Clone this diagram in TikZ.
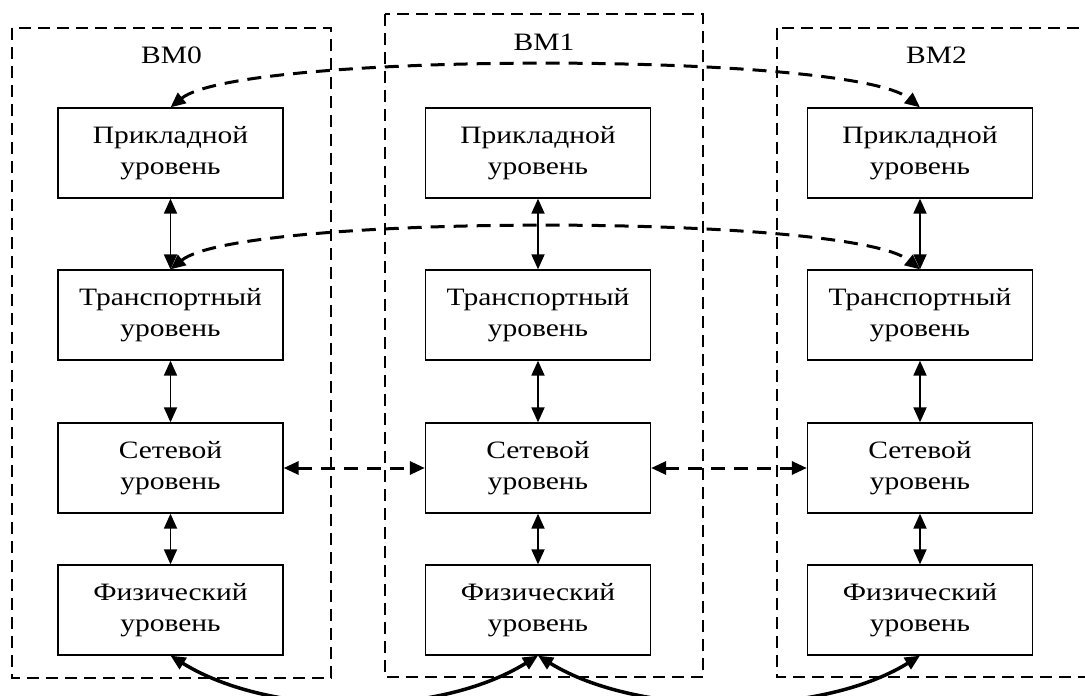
\documentclass[tikz,border=0pt]{standalone}
\usepackage{fontspec}
\setmainfont{Liberation Serif}[FakeStretch=1.18]
\usetikzlibrary{arrows.meta}
\definecolor{mainBlack}{gray}{0}

\begin{document}
\begin{tikzpicture}[x=1pt, y=-1pt, >={Triangle[length=15pt,width=13pt]},
    layer/.style={draw, mainBlack, line width=1.3pt, minimum width=225pt, minimum height=90pt,
        inner sep=0pt, align=center, font=\fontsize{25}{31}\selectfont},
    vmname/.style={anchor=base, font=\fontsize{25}{31}\selectfont},
    vmframe/.style={draw, mainBlack, line width=1.3pt, dash pattern=on 12pt off 7pt},
    link/.style={<->, mainBlack, line width=1.8pt},
    peer/.style={<->, mainBlack, line width=3pt, dash pattern=on 14pt off 9pt},
    wire/.style={<->, mainBlack, line width=3.5pt}]
    \clip (0,0) rectangle (1085,696);

    % virtual machines
    \draw[vmframe] (12,28) rectangle (331,678);
    \draw[vmframe] (385,14) rectangle (703,677);
    \draw[vmframe] (777,28) rectangle (1096,677);
    \node[vmname] (vm0) at (171.5,63) {ВМ0};
    \node[vmname] (vm1) at (544,50) {ВМ1};
    \node[vmname] (vm2) at (936.5,63) {ВМ2};

    % layers
    \node[layer] (app0) at (170.5,153) {Прикладной\\уровень};
    \node[layer] (tr0) at (170.5,315) {Транспортный\\уровень};
    \node[layer] (net0) at (170.5,468) {Сетевой\\уровень};
    \node[layer] (phy0) at (170.5,610) {Физический\\уровень};

    \node[layer] (app1) at (538,153) {Прикладной\\уровень};
    \node[layer] (tr1) at (538,315) {Транспортный\\уровень};
    \node[layer] (net1) at (538,468) {Сетевой\\уровень};
    \node[layer] (phy1) at (538,610) {Физический\\уровень};

    \node[layer] (app2) at (920,153) {Прикладной\\уровень};
    \node[layer] (tr2) at (920,315) {Транспортный\\уровень};
    \node[layer] (net2) at (920,468) {Сетевой\\уровень};
    \node[layer] (phy2) at (920,610) {Физический\\уровень};

    % inside each machine
    \draw[link] (app0) -- (tr0);
    \draw[link] (tr0) -- (net0);
    \draw[link] (net0) -- (phy0);
    \draw[link] (app1) -- (tr1);
    \draw[link] (tr1) -- (net1);
    \draw[link] (net1) -- (phy1);
    \draw[link] (app2) -- (tr2);
    \draw[link] (tr2) -- (net2);
    \draw[link] (net2) -- (phy2);

    % peer links
    \draw[peer] (app0.north) .. controls +(69,-56) and +(-69,-56) .. (app2.north);
    \draw[peer] (tr0.north) .. controls +(69,-56) and +(-69,-56) .. (tr2.north);
    \draw[peer] (net0) -- (net1);
    \draw[peer] (net1) -- (net2);

    % physical medium
    \draw[wire] (phy0.south) .. controls +(100,62) and +(-100,62) .. (phy1.south);
    \draw[wire] (phy1.south) .. controls +(100,62) and +(-100,62) .. (phy2.south);
\end{tikzpicture}
\end{document}
